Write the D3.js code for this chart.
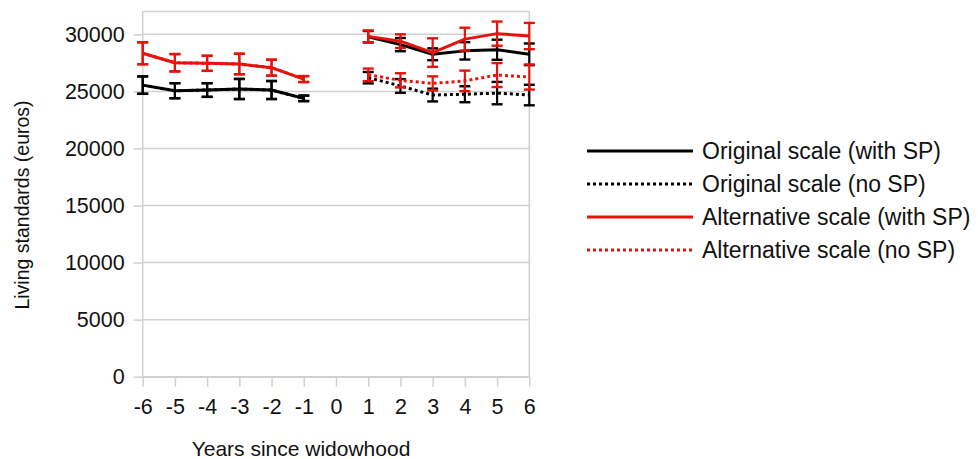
<!DOCTYPE html>
<html><head><meta charset="utf-8">
<script src="https://cdn.jsdelivr.net/npm/d3@7"></script>
<style>
html,body{margin:0;padding:0;background:#fff;}
svg text{font-family:"Liberation Sans",Arial,Helvetica,sans-serif;fill:#111;}
</style></head>
<body>
<svg id="chart" width="978" height="459"></svg>
<script>
// ---- data ----
const years = [-6, -5, -4, -3, -2, -1, 1, 2, 3, 4, 5, 6];
const xTicks = [-6, -5, -4, -3, -2, -1, 0, 1, 2, 3, 4, 5, 6];
const yTicks = [0, 5000, 10000, 15000, 20000, 25000, 30000];

const origWith    = [25550, 25060, 25120, 25210, 25120, 24390, 29790, 29100, 28250, 28550, 28650, 28250];
const origWithErr = [  760,   660,   600,   880,   790,   240,   500,   580,   520,   760,   880,   950];
const origNo      = [25550, 25060, 25120, 25210, 25120, 24390, 26200, 25480, 24680, 24750, 24850, 24680];
const origNoErr   = [  760,   660,   600,   880,   790,   240,   500,   600,   560,   700,   980,   900];
const altWith     = [28340, 27510, 27460, 27400, 27080, 26080, 29820, 29400, 28400, 29580, 30060, 29850];
const altWithErr  = [  960,   760,   660,   900,   700,   260,   520,   600,  1250,  1000,  1060,  1150];
const altNo       = [28340, 27510, 27460, 27400, 27080, 26080, 26450, 25970, 25700, 25920, 26430, 26260];
const altNoErr    = [  960,   760,   660,   900,   700,   260,   550,   620,   620,   900,  1050,  1100];

const seriesNames = ["Original scale (with SP)", "Original scale (no SP)", "Alternative scale (with SP)", "Alternative scale (no SP)"];

const series = [
  {name: seriesNames[0], vals: origWith, errs: origWithErr, color: "#000", dash: null},
  {name: seriesNames[1], vals: origNo,   errs: origNoErr,   color: "#000", dash: "3,3"},
  {name: seriesNames[2], vals: altWith,  errs: altWithErr,  color: "#e8120c", dash: null},
  {name: seriesNames[3], vals: altNo,    errs: altNoErr,    color: "#e8120c", dash: "3,3"}
];

// ---- chart ----
const svg = d3.select("#chart");
const x = d3.scaleLinear().domain([-6, 6]).range([142.7, 529.3]);
const y = d3.scaleLinear().domain([0, 32000]).range([376.7, 11.5]);
const grid = "#d0d0d0";
const tickFont = 21.5;

// gridlines
svg.append("g").selectAll("line").data(yTicks).join("line")
  .attr("x1", x(-6)).attr("x2", x(6))
  .attr("y1", d => y(d)).attr("y2", d => y(d))
  .attr("stroke", grid).attr("stroke-width", 1.5);

// frame
svg.append("line").attr("x1", x(-6)).attr("x2", x(6)).attr("y1", y(32000)).attr("y2", y(32000)).attr("stroke", grid).attr("stroke-width", 1.5);
svg.append("line").attr("x1", x(6)).attr("x2", x(6)).attr("y1", y(32000)).attr("y2", y(0)).attr("stroke", grid).attr("stroke-width", 1.5);

// y axis
const yAxis = svg.append("g").attr("transform", `translate(${x(-6)},0)`)
  .call(d3.axisLeft(y).tickValues(yTicks).tickFormat(d3.format("d")).tickSizeInner(9).tickSizeOuter(0).tickPadding(9));
yAxis.select(".domain").attr("stroke", grid).attr("stroke-width", 1.5).attr("d", `M0,${y(0)}V${y(32000)}`);
yAxis.selectAll(".tick line").attr("stroke", grid).attr("stroke-width", 1.5);
yAxis.selectAll(".tick text").attr("font-size", tickFont).attr("fill", "#111").attr("font-family", "Liberation Sans, Arial, sans-serif");

// x axis
const xAxis = svg.append("g").attr("transform", `translate(0,${y(0)})`)
  .call(d3.axisBottom(x).tickValues(xTicks).tickFormat(d => d < 0 ? "-" + Math.abs(d) : String(d)).tickSizeInner(10).tickSizeOuter(0).tickPadding(12));
xAxis.select(".domain").attr("stroke", grid).attr("stroke-width", 1.5);
xAxis.selectAll(".tick line").attr("stroke", grid).attr("stroke-width", 1.5);
xAxis.selectAll(".tick text").attr("font-size", tickFont).attr("fill", "#111").attr("font-family", "Liberation Sans, Arial, sans-serif");

// axis titles
svg.append("text").attr("x", 301).attr("y", 456).attr("text-anchor", "middle")
  .attr("font-size", 21).text("Years since widowhood");
svg.append("text").attr("transform", "translate(29,205) rotate(-90)").attr("text-anchor", "middle")
  .attr("font-size", 19.5).text("Living standards (euros)");

// series
const line = d3.line().x(d => x(d.x)).y(d => y(d.v));
series.forEach(s => {
  const pts = years.map((yr, i) => ({x: yr, v: s.vals[i], e: s.errs[i]}));
  const g = svg.append("g");
  [pts.filter(p => p.x < 0), pts.filter(p => p.x > 0)].forEach(seg => {
    g.append("path").attr("d", line(seg)).attr("fill", "none")
      .attr("stroke", s.color).attr("stroke-width", 3)
      .attr("stroke-dasharray", s.dash).attr("stroke-linejoin", "round");
  });
  const eb = g.selectAll("g.eb").data(pts).join("g");
  eb.append("line").attr("x1", d => x(d.x)).attr("x2", d => x(d.x))
    .attr("y1", d => y(d.v - d.e)).attr("y2", d => y(d.v + d.e))
    .attr("stroke", s.color).attr("stroke-width", 2.2);
  eb.append("line").attr("x1", d => x(d.x) - 5.5).attr("x2", d => x(d.x) + 5.5)
    .attr("y1", d => y(d.v + d.e)).attr("y2", d => y(d.v + d.e))
    .attr("stroke", s.color).attr("stroke-width", 2.4);
  eb.append("line").attr("x1", d => x(d.x) - 5.5).attr("x2", d => x(d.x) + 5.5)
    .attr("y1", d => y(d.v - d.e)).attr("y2", d => y(d.v - d.e))
    .attr("stroke", s.color).attr("stroke-width", 2.4);
});

// legend
const leg = svg.append("g");
const legY = [151, 184, 217, 250];
series.forEach((s, i) => {
  leg.append("line").attr("x1", 587).attr("x2", 693).attr("y1", legY[i]).attr("y2", legY[i])
    .attr("stroke", s.color).attr("stroke-width", 3).attr("stroke-dasharray", s.dash);
  leg.append("text").attr("x", 702).attr("y", legY[i] + 8).attr("font-size", 23).text(s.name);
});
</script>
</body></html>
